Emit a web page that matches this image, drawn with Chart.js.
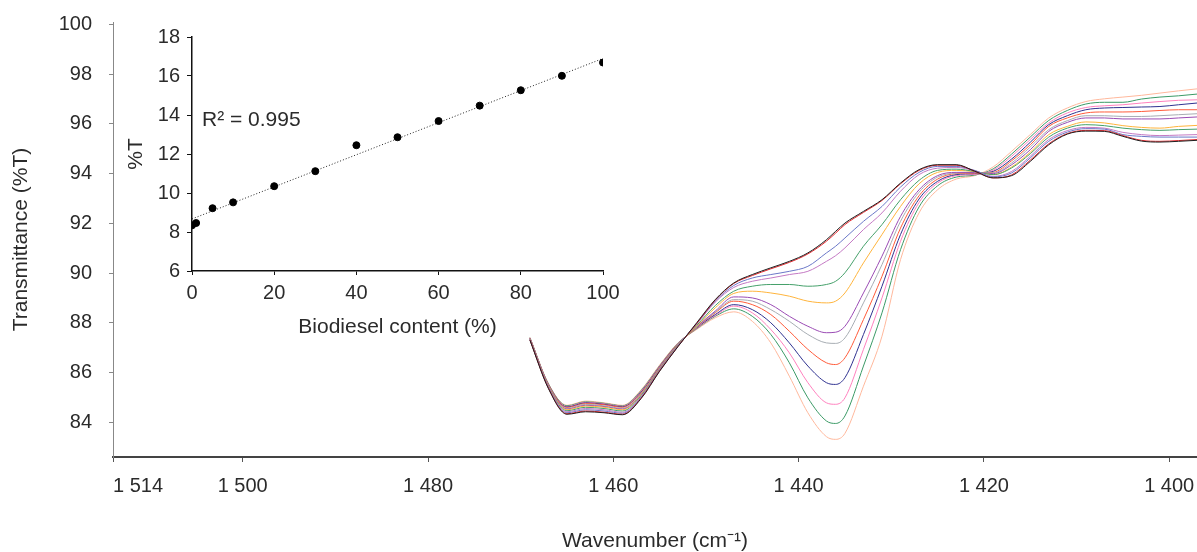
<!DOCTYPE html>
<html>
<head>
<meta charset="utf-8">
<script src="https://cdn.jsdelivr.net/npm/chart.js@4.4.1/dist/chart.umd.min.js"></script>
<style>
    body { margin: 0; background: #fff; }
    #wrap { position: relative; width: 1197px; height: 552px; overflow: hidden; }
    #mainBox { position: absolute; left: 0; top: 0; width: 1197px; height: 552px; }
    #insetBox { position: absolute; left: 120px; top: 25px; width: 520px; height: 320px; }
    #r2 { position: absolute; left: 202px; top: 107px; font: 21px 'Liberation Sans', Arial, sans-serif; color: #2b2b2b; white-space: nowrap; }
</style>
</head>
<body>
<div id="wrap">
    <div id="mainBox"><canvas id="mainChart"></canvas></div>
    <div id="insetBox"><canvas id="insetChart"></canvas></div>
    <div id="r2">R² = 0.995</div>
</div>
<script>
// --- SPECTRA: wavenumber grid and %T of each blend ---
const wavenumbers = [1469,1467,1465,1463,1461,1459,1457,1455,1453,1451,1449,1447,1445,1443,1441,1439,1437,1436,1435,1433,1431,1429,1427,1425,1423,1421,1419,1417,1415,1413,1411,1409,1407,1405,1403,1401,1399,1397];

const t0   = [87.30,85.35,84.32,84.42,84.38,84.30,84.95,86.05,87.05,88.00,88.93,89.60,89.94,90.21,90.47,90.81,91.34,91.68,92.01,92.48,92.95,93.62,94.16,94.36,94.36,94.10,93.83,93.92,94.49,95.16,95.59,95.71,95.70,95.50,95.31,95.27,95.30,95.34];
const t1   = [87.31,85.37,84.34,84.45,84.40,84.32,84.97,86.07,87.06,87.97,88.91,89.58,89.90,90.17,90.43,90.77,91.28,91.61,91.95,92.44,92.92,93.59,94.13,94.34,94.34,94.10,93.83,93.95,94.54,95.20,95.61,95.74,95.73,95.53,95.34,95.30,95.33,95.37];
const t5   = [87.32,85.40,84.38,84.50,84.45,84.36,85.00,86.09,87.08,87.97,88.87,89.50,89.80,89.94,90.07,90.27,90.81,91.08,91.41,92.08,92.68,93.46,94.05,94.29,94.29,94.13,93.87,94.03,94.63,95.30,95.67,95.81,95.79,95.57,95.50,95.47,95.47,95.47];
const t10  = [87.33,85.42,84.42,84.55,84.50,84.40,85.03,86.11,87.09,87.94,88.83,89.42,89.67,89.80,89.94,90.07,90.47,90.70,91.01,91.75,92.42,93.29,93.96,94.22,94.25,94.12,93.89,94.09,94.70,95.37,95.73,95.86,95.83,95.66,95.57,95.53,95.55,95.57];
const t20  = [87.34,85.44,84.46,84.60,84.55,84.45,85.07,86.13,87.11,87.89,88.69,89.27,89.47,89.54,89.54,89.47,89.54,89.67,90.01,91.08,91.95,92.95,93.73,94.13,94.18,94.09,93.96,94.23,94.80,95.47,95.83,95.97,95.93,95.83,95.77,95.74,95.77,95.79];
const t30  = [87.35,85.46,84.50,84.65,84.60,84.50,85.10,86.15,87.12,87.86,88.60,89.18,89.27,89.20,89.07,88.87,88.80,88.87,89.20,90.41,91.55,92.68,93.59,94.05,94.13,94.08,93.96,94.27,94.86,95.57,95.90,96.08,96.04,95.93,95.86,95.83,95.90,95.94];
const t40  = [87.36,85.47,84.53,84.68,84.63,84.53,85.12,86.17,87.13,87.84,88.47,89.04,89.00,88.73,88.26,87.86,87.60,87.62,87.86,89.20,90.68,92.28,93.35,93.92,94.05,94.05,94.00,94.36,94.96,95.70,96.06,96.24,96.24,96.20,96.20,96.20,96.24,96.28];
const t50  = [87.37,85.48,84.56,84.72,84.66,84.56,85.15,86.19,87.14,87.82,88.43,88.93,88.87,88.53,88.06,87.53,87.19,87.17,87.39,88.80,90.34,92.08,93.25,93.86,94.02,94.04,94.03,94.43,95.07,95.77,96.13,96.33,96.33,96.30,96.30,96.33,96.37,96.41];
const t60  = [87.38,85.50,84.59,84.75,84.70,84.60,85.18,86.21,87.15,87.81,88.40,88.87,88.73,88.33,87.66,86.93,86.39,86.32,86.59,88.13,89.87,91.81,93.11,93.78,94.00,94.02,94.05,94.52,95.16,95.90,96.24,96.44,96.48,96.48,96.50,96.54,96.57,96.57];
const t70  = [87.38,85.51,84.61,84.78,84.72,84.62,85.21,86.23,87.16,87.80,88.33,88.73,88.53,88.00,87.19,86.26,85.59,85.52,85.79,87.53,89.47,91.55,92.98,93.69,93.96,94.00,94.09,94.59,95.26,95.97,96.33,96.57,96.64,96.66,96.68,96.70,96.77,96.84];
const t80  = [87.39,85.52,84.63,84.80,84.74,84.64,85.24,86.25,87.17,87.78,88.29,88.67,88.40,87.73,86.79,85.59,84.78,84.72,84.98,86.93,89.00,91.28,92.84,93.62,93.92,93.97,94.14,94.70,95.37,96.04,96.44,96.66,96.73,96.77,96.84,96.90,96.95,96.97];
const t90  = [87.40,85.54,84.66,84.82,84.76,84.66,85.27,86.27,87.18,87.76,88.26,88.56,88.26,87.53,86.39,84.98,84.05,83.95,84.25,86.26,88.40,90.94,92.66,93.51,93.86,93.94,94.19,94.79,95.47,96.14,96.54,96.80,96.87,96.87,97.00,97.08,97.13,97.20];
const t100 = [87.41,85.55,84.68,84.85,84.78,84.68,85.30,86.30,87.20,87.73,88.20,88.44,88.06,87.19,85.85,84.38,83.42,83.31,83.55,85.45,87.46,90.54,92.42,93.35,93.78,93.92,94.27,94.90,95.57,96.24,96.64,96.90,97.01,97.08,97.15,97.24,97.33,97.41];

const spectra = [t0, t1, t5, t10, t20, t30, t40, t50, t60, t70, t80, t90, t100];
const spectraColors = ['#1e1e1e', '#e4262c', '#6b78c8', '#c47ac4', '#45a06a', '#ffb43c', '#9a4bb4', '#a7adb3', '#ff5b3a', '#2f3290', '#ff80be', '#3b9a66', '#ffb89c'];

// main axis ticks
const mainXTicks = [1514, 1500, 1480, 1460, 1440, 1420, 1400];
const mainYTicks = [84, 86, 88, 90, 92, 94, 96, 98, 100];

// --- INSET: calibration points and trend line ---
const contentPct = [0, 1, 5, 10, 20, 30, 40, 50, 60, 70, 80, 90, 100];
const insetT = [8.34, 8.46, 9.22, 9.52, 10.35, 11.12, 12.45, 12.86, 13.69, 14.48, 15.27, 16.01, 16.69];
const trendX = [0, 100];
const trendY = [8.67, 16.90];
const insetXTicks = [0, 20, 40, 60, 80, 100];
const insetYTicks = [6, 8, 10, 12, 14, 16, 18];

const FONT = "'Liberation Sans', Arial, sans-serif";
const TXT = '#2b2b2b';

function fmtWave(v) {
    const s = String(v);
    const lbl = s.slice(0, 1) + ' ' + s.slice(1);
    // first label sits right of its tick in the original
    return v === 1514 ? '         ' + lbl : lbl;
}

// fixed axis boxes, and no extra label overflow padding (plot area is placed by hand)
function fixBox(size) {
    return s => {
        if (s.isHorizontal()) s.height = size; else s.width = size;
        s.paddingTop = 0; s.paddingBottom = 0; s.paddingLeft = 0; s.paddingRight = 0;
    };
}

// --- MAIN SPECTRA CHART ---
new Chart(document.getElementById('mainChart'), {
    type: 'line',
    data: {
        datasets: spectra.map((vals, i) => ({
            data: wavenumbers.map((w, j) => ({ x: w, y: vals[j] })),
            borderColor: spectraColors[i],
            borderWidth: 1,
            pointRadius: 0,
            cubicInterpolationMode: 'monotone',
            fill: false
        }))
    },
    options: {
        responsive: true,
        maintainAspectRatio: false,
        animation: false,
        layout: { autoPadding: false, padding: { top: 22, right: 0, left: 0, bottom: 0 } },
        plugins: { legend: { display: false }, tooltip: { enabled: false } },
        scales: {
            x: {
                type: 'linear',
                reverse: true,
                min: 1397,
                max: 1514,
                afterBuildTicks: s => { s.ticks = mainXTicks.map(v => ({ value: v })); },
                afterFit: fixBox(95),
                grid: { drawOnChartArea: false, tickLength: 5, color: '#555' },
                border: { color: '#444', width: 2 },
                ticks: { color: TXT, font: { family: FONT, size: 20 }, padding: 12, maxRotation: 0, autoSkip: false, callback: v => fmtWave(v) },
                title: { display: true, text: 'Wavenumber (cm⁻¹)', color: TXT, font: { family: FONT, size: 21, lineHeight: 1 }, padding: { top: 0, bottom: 0 } }
            },
            y: {
                min: 82.6,
                max: 100.1,
                afterBuildTicks: s => { s.ticks = mainYTicks.map(v => ({ value: v })); },
                afterFit: fixBox(113),
                grid: { drawOnChartArea: false, tickLength: 4, color: '#888' },
                border: { color: '#888', width: 1 },
                ticks: { color: TXT, font: { family: FONT, size: 20 }, padding: 17 },
                title: { display: true, text: 'Transmittance (%T)', color: TXT, font: { family: FONT, size: 21 }, padding: { top: 9, bottom: 0 } }
            }
        }
    }
});

// --- INSET CALIBRATION CHART ---
new Chart(document.getElementById('insetChart'), {
    type: 'scatter',
    data: {
        datasets: [
            {
                data: contentPct.map((c, i) => ({ x: c, y: insetT[i] })),
                backgroundColor: '#000',
                borderColor: '#000',
                pointRadius: 3.5,
                pointHoverRadius: 3.5
            },
            {
                type: 'line',
                data: trendX.map((x, i) => ({ x: x, y: trendY[i] })),
                borderColor: '#222',
                borderWidth: 1,
                borderDash: [1, 2],
                pointRadius: 0,
                fill: false
            }
        ]
    },
    options: {
        responsive: true,
        maintainAspectRatio: false,
        animation: false,
        layout: { autoPadding: false, padding: { top: 12, right: 37, left: 0, bottom: 0 } },
        plugins: { legend: { display: false }, tooltip: { enabled: false } },
        scales: {
            x: {
                type: 'linear',
                min: 0,
                max: 100,
                afterBuildTicks: s => { s.ticks = insetXTicks.map(v => ({ value: v })); },
                afterFit: fixBox(74),
                grid: { drawOnChartArea: false, tickLength: 4, color: '#111' },
                border: { color: '#111', width: 1.5 },
                ticks: { color: TXT, font: { family: FONT, size: 20 }, padding: 6 },
                title: { display: true, text: 'Biodiesel content (%)', color: TXT, font: { family: FONT, size: 21 }, padding: { top: 0, bottom: 5 } }
            },
            y: {
                min: 6,
                max: 18,
                afterBuildTicks: s => { s.ticks = insetYTicks.map(v => ({ value: v })); },
                afterFit: fixBox(72),
                grid: { drawOnChartArea: false, tickLength: 5, color: '#111' },
                border: { color: '#111', width: 1.5 },
                ticks: { color: TXT, font: { family: FONT, size: 20 }, padding: 7 },
                title: { display: true, text: '%T', color: TXT, font: { family: FONT, size: 21 }, padding: { top: 4, bottom: 0 } }
            }
        }
    }
});
</script>
</body>
</html>
